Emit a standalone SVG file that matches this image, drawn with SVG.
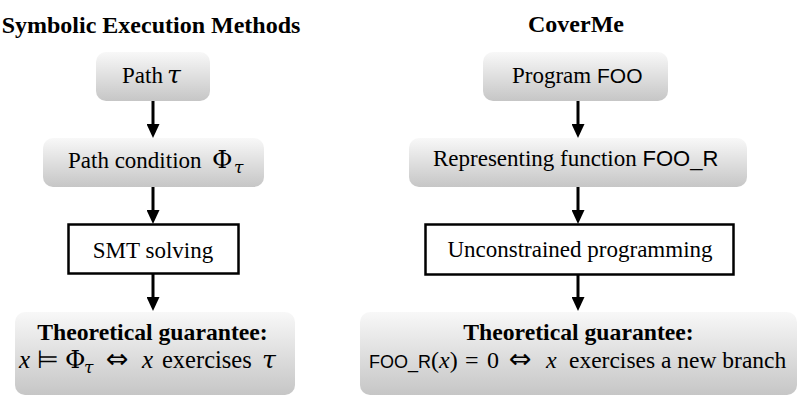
<svg xmlns="http://www.w3.org/2000/svg" width="800" height="400" viewBox="0 0 800 400">
<defs>
<linearGradient id="grad" x1="0" y1="0" x2="0" y2="1">
<stop offset="0" stop-color="#f8f8f8"/>
<stop offset="1" stop-color="#c6c6c6"/>
</linearGradient>
<marker id="ah" markerUnits="userSpaceOnUse" markerWidth="14" markerHeight="13" refX="4" refY="6.5" orient="auto">
<path d="M0,0 L14,6.5 L0,13 Z" fill="#000"/>
</marker>
<style>
.t{font-family:"Liberation Serif","Times New Roman",serif;fill:#000;}
.title{font-size:24px;font-weight:bold;text-anchor:middle;}
.lab{font-size:23px;text-anchor:middle;}
.st{font-size:23px;}
.b{font-weight:bold;font-size:23.7px;text-anchor:middle;}
.i{font-style:italic;}
.g{font-family:"DejaVu Serif",serif;}
.tau{font-family:"DejaVu Serif",serif;font-style:italic;font-size:25px;}
.sym{font-family:"DejaVu Sans",sans-serif;font-size:27px;}
.s{font-family:"Liberation Sans",Arial,sans-serif;font-size:21px;}
.sub{font-family:"DejaVu Serif",serif;font-size:17px;font-style:italic;}
.soft{fill:url(#grad);stroke:none;}
.hard{fill:#fff;stroke:#000;stroke-width:2.5;}
.conn line{stroke:#000;stroke-width:3;marker-end:url(#ah);}
</style>
</defs>
<rect width="800" height="400" fill="#fff"/>

<text class="t title" x="151" y="33">Symbolic Execution Methods</text>
<text class="t title" x="576" y="32">CoverMe</text>

<g id="path-tau">
<rect class="soft" x="96" y="52" width="114" height="49" rx="10"/>
<text class="t st" x="122" y="83">Path</text>
<text class="t tau" x="167" y="83">τ</text>
</g>
<g id="path-condition">
<rect class="soft" x="43" y="138" width="221" height="49" rx="10"/>
<text class="t st" x="68" y="168">Path condition</text>
<text class="t g" x="212" y="168" style="font-size:25px">Φ</text>
<text class="t sub" x="234" y="173">τ</text>
</g>
<g id="smt">
<rect class="hard" x="68.5" y="224.5" width="170" height="49"/>
<text class="t lab" x="153" y="258">SMT solving</text>
</g>
<g id="guarantee-left">
<rect class="soft" x="15" y="312" width="280" height="83" rx="10"/>
<text class="t b" x="152.5" y="340">Theoretical guarantee:</text>
<text class="t i" x="19" y="368" style="font-size:25px">x</text>
<text class="t sym" x="37" y="368" style="font-size:25px">⊨</text>
<text class="t g" x="65" y="368" style="font-size:25px">Φ</text>
<text class="t sub" x="84" y="373">τ</text>
<text class="t sym" x="106" y="368">⇔</text>
<text class="t i" x="142" y="368" style="font-size:25px">x</text>
<text class="t" x="162" y="368" style="font-size:24.5px">exercises</text>
<text class="t tau" x="262" y="368">τ</text>
</g>

<g id="program-foo">
<rect class="soft" x="483" y="52" width="185" height="49" rx="10"/>
<text class="t st" x="512" y="83">Program <tspan class="s">FOO</tspan></text>
</g>
<g id="representing">
<rect class="soft" x="409" y="138" width="338" height="49" rx="10"/>
<text class="t st" x="433" y="166">Representing function <tspan class="s" style="font-size:22px">FOO_R</tspan></text>
</g>
<g id="unconstrained">
<rect class="hard" x="425.5" y="224.5" width="308" height="50"/>
<text class="t lab" x="580" y="257">Unconstrained programming</text>
</g>
<g id="guarantee-right">
<rect class="soft" x="360" y="312" width="437" height="83" rx="10"/>
<text class="t b" x="578.5" y="340">Theoretical guarantee:</text>
<text class="t s" x="369" y="368" style="font-size:18px">FOO_R</text>
<text class="t" x="431" y="368" style="font-size:24px">(<tspan class="i">x</tspan>)</text>
<text class="t" x="465" y="368" style="font-size:24px">=</text>
<text class="t" x="487" y="368" style="font-size:24px">0</text>
<text class="t sym" x="509" y="368">⇔</text>
<text class="t i" x="546" y="368" style="font-size:24px">x</text>
<text class="t" x="569" y="368" style="font-size:23.5px">exercises a new branch</text>
</g>

<g id="connectors" class="conn">
<line x1="153" y1="101" x2="153" y2="128"/>
<line x1="153" y1="187" x2="153" y2="214"/>
<line x1="153" y1="274" x2="153" y2="301"/>
<line x1="578" y1="101" x2="578" y2="128"/>
<line x1="578" y1="187" x2="578" y2="214"/>
<line x1="578" y1="275" x2="578" y2="301"/>
</g>
</svg>
